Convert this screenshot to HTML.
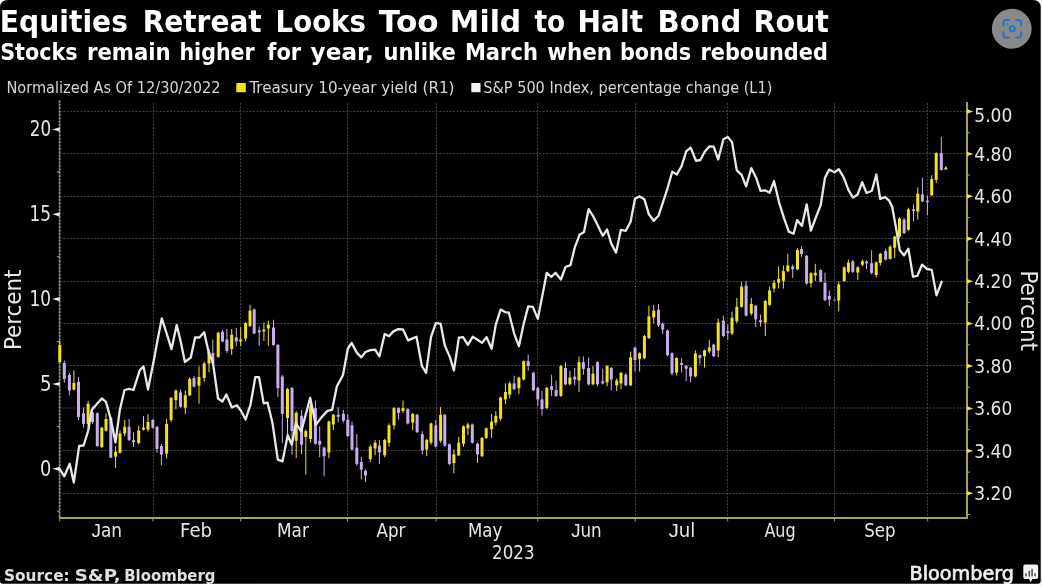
<!DOCTYPE html><html><head><meta charset="utf-8"><title>Equities Retreat Looks Too Mild to Halt Bond Rout</title>
<style>html,body{margin:0;padding:0;background:#fff;width:1042px;height:587px;overflow:hidden}svg{display:block;filter:blur(0.3px)}</style></head><body>
<svg width="1042" height="587" viewBox="0 0 1042 587">
<path d="M8 0 H1032.8 Q1040.8 0 1040.8 8 V580.7 Q1040.8 583.7 1037.8 583.7 H3 Q0 583.7 0 580.7 V8 Q0 0 8 0 Z" fill="#000"/>
<rect x="1040.8" y="0" width="1.2" height="587" fill="#d8d8d8" opacity="0.5"/>
<text x="-0.13" y="32.10" fill="#fff" font-family="'DejaVu Sans', sans-serif" font-weight="bold" font-size="30.2" textLength="128.09" lengthAdjust="spacingAndGlyphs">Equities</text>
<text x="142.68" y="32.10" fill="#fff" font-family="'DejaVu Sans', sans-serif" font-weight="bold" font-size="30.2" textLength="119.00" lengthAdjust="spacingAndGlyphs">Retreat</text>
<text x="275.62" y="32.10" fill="#fff" font-family="'DejaVu Sans', sans-serif" font-weight="bold" font-size="30.2" textLength="90.23" lengthAdjust="spacingAndGlyphs">Looks</text>
<text x="378.80" y="32.10" fill="#fff" font-family="'DejaVu Sans', sans-serif" font-weight="bold" font-size="30.2" textLength="59.85" lengthAdjust="spacingAndGlyphs">Too</text>
<text x="449.82" y="32.10" fill="#fff" font-family="'DejaVu Sans', sans-serif" font-weight="bold" font-size="30.2" textLength="71.36" lengthAdjust="spacingAndGlyphs">Mild</text>
<text x="534.44" y="32.10" fill="#fff" font-family="'DejaVu Sans', sans-serif" font-weight="bold" font-size="30.2" textLength="30.65" lengthAdjust="spacingAndGlyphs">to</text>
<text x="577.57" y="32.10" fill="#fff" font-family="'DejaVu Sans', sans-serif" font-weight="bold" font-size="30.2" textLength="65.57" lengthAdjust="spacingAndGlyphs">Halt</text>
<text x="657.58" y="32.10" fill="#fff" font-family="'DejaVu Sans', sans-serif" font-weight="bold" font-size="30.2" textLength="83.75" lengthAdjust="spacingAndGlyphs">Bond</text>
<text x="753.43" y="32.10" fill="#fff" font-family="'DejaVu Sans', sans-serif" font-weight="bold" font-size="30.2" textLength="75.56" lengthAdjust="spacingAndGlyphs">Rout</text>
<text x="0.15" y="59.80" fill="#fff" font-family="'DejaVu Sans', sans-serif" font-weight="bold" font-size="23" textLength="77.45" lengthAdjust="spacingAndGlyphs">Stocks</text>
<text x="87.00" y="59.80" fill="#fff" font-family="'DejaVu Sans', sans-serif" font-weight="bold" font-size="23" textLength="83.66" lengthAdjust="spacingAndGlyphs">remain</text>
<text x="179.45" y="59.80" fill="#fff" font-family="'DejaVu Sans', sans-serif" font-weight="bold" font-size="23" textLength="75.23" lengthAdjust="spacingAndGlyphs">higher</text>
<text x="267.28" y="59.80" fill="#fff" font-family="'DejaVu Sans', sans-serif" font-weight="bold" font-size="23" textLength="33.83" lengthAdjust="spacingAndGlyphs">for</text>
<text x="310.64" y="59.80" fill="#fff" font-family="'DejaVu Sans', sans-serif" font-weight="bold" font-size="23" textLength="63.20" lengthAdjust="spacingAndGlyphs">year,</text>
<text x="383.52" y="59.80" fill="#fff" font-family="'DejaVu Sans', sans-serif" font-weight="bold" font-size="23" textLength="72.15" lengthAdjust="spacingAndGlyphs">unlike</text>
<text x="464.90" y="59.80" fill="#fff" font-family="'DejaVu Sans', sans-serif" font-weight="bold" font-size="23" textLength="73.03" lengthAdjust="spacingAndGlyphs">March</text>
<text x="547.24" y="59.80" fill="#fff" font-family="'DejaVu Sans', sans-serif" font-weight="bold" font-size="23" textLength="64.89" lengthAdjust="spacingAndGlyphs">when</text>
<text x="619.94" y="59.80" fill="#fff" font-family="'DejaVu Sans', sans-serif" font-weight="bold" font-size="23" textLength="71.11" lengthAdjust="spacingAndGlyphs">bonds</text>
<text x="700.53" y="59.80" fill="#fff" font-family="'DejaVu Sans', sans-serif" font-weight="bold" font-size="23" textLength="127.29" lengthAdjust="spacingAndGlyphs">rebounded</text>
<g font-family="'DejaVu Sans Condensed', 'DejaVu Sans', sans-serif" font-size="15.4" fill="#d6d6d6">
<text x="6.5" y="93.2" textLength="214" lengthAdjust="spacingAndGlyphs">Normalized As Of 12/30/2022</text>
<rect x="236.3" y="83" width="9.5" height="9.2" fill="#f3e51c"/>
<text x="249.5" y="93.2" textLength="205" lengthAdjust="spacingAndGlyphs">Treasury 10-year yield (R1)</text>
<rect x="471.3" y="83" width="9.2" height="9.2" fill="#f2f2f2"/>
<text x="483.3" y="93.2" textLength="289" lengthAdjust="spacingAndGlyphs">S&amp;P 500 Index, percentage change (L1)</text>
</g>
<g stroke="#464646" stroke-width="1" stroke-dasharray="1.9 1.55" fill="none">
<line x1="59.7" y1="111.5" x2="966.3" y2="111.5"/>
<line x1="59.7" y1="153.5" x2="966.3" y2="153.5"/>
<line x1="59.7" y1="196.5" x2="966.3" y2="196.5"/>
<line x1="59.7" y1="238.5" x2="966.3" y2="238.5"/>
<line x1="59.7" y1="281.5" x2="966.3" y2="281.5"/>
<line x1="59.7" y1="323.5" x2="966.3" y2="323.5"/>
<line x1="59.7" y1="365.5" x2="966.3" y2="365.5"/>
<line x1="59.7" y1="408" x2="966.3" y2="408"/>
<line x1="59.7" y1="450.5" x2="966.3" y2="450.5"/>
<line x1="59.7" y1="493.5" x2="966.3" y2="493.5"/>
<line x1="153.5" y1="103" x2="153.5" y2="518"/>
<line x1="240.5" y1="103" x2="240.5" y2="518"/>
<line x1="347.5" y1="103" x2="347.5" y2="518"/>
<line x1="436.5" y1="103" x2="436.5" y2="518"/>
<line x1="537.5" y1="103" x2="537.5" y2="518"/>
<line x1="635.5" y1="103" x2="635.5" y2="518"/>
<line x1="727.5" y1="103" x2="727.5" y2="518"/>
<line x1="834.5" y1="103" x2="834.5" y2="518"/>
<line x1="927.5" y1="103" x2="927.5" y2="518"/>
</g>
<line x1="59.6" y1="100.5" x2="59.6" y2="518" stroke="#555" stroke-width="1.6"/>
<line x1="59.6" y1="100.5" x2="59.6" y2="518" stroke="#9a9a9a" stroke-width="1.6" stroke-dasharray="1.7 1.7"/>
<path d="M52.3 129.4 L59.6 127.3 L59.6 131.5 Z" fill="#f0f0f0"/>
<path d="M52.3 214.3 L59.6 212.2 L59.6 216.4 Z" fill="#f0f0f0"/>
<path d="M52.3 299.1 L59.6 297.0 L59.6 301.2 Z" fill="#f0f0f0"/>
<path d="M52.3 384.0 L59.6 381.9 L59.6 386.1 Z" fill="#f0f0f0"/>
<path d="M52.3 468.8 L59.6 466.7 L59.6 470.9 Z" fill="#f0f0f0"/>
<line x1="57" y1="171.8" x2="59.6" y2="171.8" stroke="#aaa" stroke-width="1"/>
<line x1="57" y1="256.7" x2="59.6" y2="256.7" stroke="#aaa" stroke-width="1"/>
<line x1="57" y1="341.5" x2="59.6" y2="341.5" stroke="#aaa" stroke-width="1"/>
<line x1="57" y1="426.4" x2="59.6" y2="426.4" stroke="#aaa" stroke-width="1"/>
<line x1="57" y1="511.2" x2="59.6" y2="511.2" stroke="#aaa" stroke-width="1"/>
<line x1="967" y1="102" x2="967" y2="519" stroke="#a4a44e" stroke-width="2"/>
<path d="M967 109.3 L973.2 111.5 L967 113.7 Z" fill="#f0e62c"/>
<path d="M967 151.7 L973.2 153.9 L967 156.1 Z" fill="#f0e62c"/>
<path d="M967 194.1 L973.2 196.3 L967 198.5 Z" fill="#f0e62c"/>
<path d="M967 236.6 L973.2 238.8 L967 241.0 Z" fill="#f0e62c"/>
<path d="M967 279.0 L973.2 281.2 L967 283.4 Z" fill="#f0e62c"/>
<path d="M967 321.4 L973.2 323.6 L967 325.8 Z" fill="#f0e62c"/>
<path d="M967 363.8 L973.2 366.0 L967 368.2 Z" fill="#f0e62c"/>
<path d="M967 406.2 L973.2 408.4 L967 410.6 Z" fill="#f0e62c"/>
<path d="M967 448.7 L973.2 450.9 L967 453.1 Z" fill="#f0e62c"/>
<path d="M967 491.1 L973.2 493.3 L967 495.5 Z" fill="#f0e62c"/>
<line x1="967" y1="132.7" x2="970" y2="132.7" stroke="#9a9a60" stroke-width="1"/>
<line x1="967" y1="175.1" x2="970" y2="175.1" stroke="#9a9a60" stroke-width="1"/>
<line x1="967" y1="217.6" x2="970" y2="217.6" stroke="#9a9a60" stroke-width="1"/>
<line x1="967" y1="260.0" x2="970" y2="260.0" stroke="#9a9a60" stroke-width="1"/>
<line x1="967" y1="302.4" x2="970" y2="302.4" stroke="#9a9a60" stroke-width="1"/>
<line x1="967" y1="344.8" x2="970" y2="344.8" stroke="#9a9a60" stroke-width="1"/>
<line x1="967" y1="387.2" x2="970" y2="387.2" stroke="#9a9a60" stroke-width="1"/>
<line x1="967" y1="429.7" x2="970" y2="429.7" stroke="#9a9a60" stroke-width="1"/>
<line x1="967" y1="472.1" x2="970" y2="472.1" stroke="#9a9a60" stroke-width="1"/>
<line x1="967" y1="514.5" x2="970" y2="514.5" stroke="#9a9a60" stroke-width="1"/>
<line x1="59.2" y1="518" x2="968" y2="518" stroke="#a5a552" stroke-width="2"/>
<line x1="59.7" y1="518" x2="59.7" y2="521.5" stroke="#a5a552" stroke-width="1"/>
<line x1="152.9" y1="518" x2="152.9" y2="521.5" stroke="#a5a552" stroke-width="1"/>
<line x1="240.7" y1="518" x2="240.7" y2="521.5" stroke="#a5a552" stroke-width="1"/>
<line x1="347.5" y1="518" x2="347.5" y2="521.5" stroke="#a5a552" stroke-width="1"/>
<line x1="436.1" y1="518" x2="436.1" y2="521.5" stroke="#a5a552" stroke-width="1"/>
<line x1="537.7" y1="518" x2="537.7" y2="521.5" stroke="#a5a552" stroke-width="1"/>
<line x1="635.2" y1="518" x2="635.2" y2="521.5" stroke="#a5a552" stroke-width="1"/>
<line x1="727.7" y1="518" x2="727.7" y2="521.5" stroke="#a5a552" stroke-width="1"/>
<line x1="834.4" y1="518" x2="834.4" y2="521.5" stroke="#a5a552" stroke-width="1"/>
<line x1="927.7" y1="518" x2="927.7" y2="521.5" stroke="#a5a552" stroke-width="1"/>
<g font-family="'DejaVu Sans Condensed', 'DejaVu Sans', sans-serif" fill="#e6e6e6">
<text x="29.82" y="136.20" font-size="20.8" textLength="21.36" lengthAdjust="spacingAndGlyphs">20</text>
<text x="29.52" y="221.05" font-size="20.8" textLength="21.52" lengthAdjust="spacingAndGlyphs">15</text>
<text x="29.52" y="305.90" font-size="20.8" textLength="21.52" lengthAdjust="spacingAndGlyphs">10</text>
<text x="39.99" y="390.75" font-size="20.8" textLength="11.58" lengthAdjust="spacingAndGlyphs">5</text>
<text x="40.01" y="475.60" font-size="20.8" textLength="11.32" lengthAdjust="spacingAndGlyphs">0</text>
<text x="974.35" y="121.60" font-size="20.2" textLength="37.95" lengthAdjust="spacingAndGlyphs">5.00</text>
<text x="974.35" y="160.72" font-size="20.2" textLength="37.95" lengthAdjust="spacingAndGlyphs">4.80</text>
<text x="974.35" y="203.14" font-size="20.2" textLength="37.95" lengthAdjust="spacingAndGlyphs">4.60</text>
<text x="974.35" y="245.56" font-size="20.2" textLength="37.95" lengthAdjust="spacingAndGlyphs">4.40</text>
<text x="974.35" y="287.98" font-size="20.2" textLength="37.95" lengthAdjust="spacingAndGlyphs">4.20</text>
<text x="974.35" y="330.40" font-size="20.2" textLength="37.95" lengthAdjust="spacingAndGlyphs">4.00</text>
<text x="974.35" y="372.82" font-size="20.2" textLength="37.95" lengthAdjust="spacingAndGlyphs">3.80</text>
<text x="974.35" y="415.24" font-size="20.2" textLength="37.95" lengthAdjust="spacingAndGlyphs">3.60</text>
<text x="974.35" y="457.66" font-size="20.2" textLength="37.95" lengthAdjust="spacingAndGlyphs">3.40</text>
<text x="974.35" y="500.08" font-size="20.2" textLength="37.95" lengthAdjust="spacingAndGlyphs">3.20</text>
<text x="91.50" y="536.50" font-size="18.6" textLength="30.56" lengthAdjust="spacingAndGlyphs"><tspan font-family="Liberation Sans, sans-serif">J</tspan>an</text>
<text x="180.09" y="536.50" font-size="18.6" textLength="31.99" lengthAdjust="spacingAndGlyphs">Feb</text>
<text x="277.02" y="536.50" font-size="18.6" textLength="31.83" lengthAdjust="spacingAndGlyphs">Mar</text>
<text x="376.50" y="536.50" font-size="18.6" textLength="28.91" lengthAdjust="spacingAndGlyphs">Apr</text>
<text x="468.05" y="536.50" font-size="18.6" textLength="34.33" lengthAdjust="spacingAndGlyphs">May</text>
<text x="571.20" y="536.50" font-size="18.6" textLength="30.55" lengthAdjust="spacingAndGlyphs"><tspan font-family="Liberation Sans, sans-serif">J</tspan>un</text>
<text x="668.70" y="536.50" font-size="18.6" textLength="26.62" lengthAdjust="spacingAndGlyphs"><tspan font-family="Liberation Sans, sans-serif">J</tspan>ul</text>
<text x="764.40" y="536.50" font-size="18.6" textLength="31.21" lengthAdjust="spacingAndGlyphs">Aug</text>
<text x="864.28" y="536.50" font-size="18.6" textLength="31.29" lengthAdjust="spacingAndGlyphs">Sep</text>
<text x="492.07" y="558.80" font-size="19.3" textLength="42.48" lengthAdjust="spacingAndGlyphs">2023</text>
<text transform="translate(21.00 350.08) rotate(-90)" font-size="23.0" textLength="80.59" lengthAdjust="spacingAndGlyphs">Percent</text>
<text transform="translate(1020.50 270.42) rotate(90)" font-size="22.2" textLength="80.48" lengthAdjust="spacingAndGlyphs">Percent</text>
</g>
<g>
<rect x="59.3" y="341.0" width="1" height="22.0" fill="#f0e224"/>
<rect x="58.3" y="345.0" width="3.0" height="17.0" fill="#f0e224"/>
<rect x="63.8" y="360.5" width="1" height="22.3" fill="#c9adec"/>
<rect x="62.8" y="363.0" width="3.0" height="16.0" fill="#c9adec"/>
<rect x="68.9" y="373.0" width="1" height="22.3" fill="#c9adec"/>
<rect x="67.9" y="375.0" width="3.0" height="15.5" fill="#c9adec"/>
<rect x="73.4" y="370.3" width="1" height="20.2" fill="#f0e224"/>
<rect x="72.4" y="382.8" width="3.0" height="6.7" fill="#f0e224"/>
<rect x="78.0" y="377.0" width="1" height="43.0" fill="#c9adec"/>
<rect x="77.0" y="381.8" width="3.0" height="35.2" fill="#c9adec"/>
<rect x="83.0" y="407.5" width="1" height="20.2" fill="#c9adec"/>
<rect x="82.0" y="413.3" width="3.0" height="10.6" fill="#c9adec"/>
<rect x="87.6" y="400.8" width="1" height="26.0" fill="#f0e224"/>
<rect x="86.6" y="403.7" width="3.0" height="20.2" fill="#f0e224"/>
<rect x="92.0" y="406.5" width="1" height="17.4" fill="#c9adec"/>
<rect x="91.0" y="412.3" width="3.0" height="9.7" fill="#c9adec"/>
<rect x="96.8" y="412.3" width="1" height="34.7" fill="#c9adec"/>
<rect x="95.8" y="413.3" width="3.0" height="32.7" fill="#c9adec"/>
<rect x="101.3" y="426.8" width="1" height="21.2" fill="#f0e224"/>
<rect x="100.3" y="427.7" width="3.0" height="19.3" fill="#f0e224"/>
<rect x="105.5" y="413.3" width="1" height="18.3" fill="#f0e224"/>
<rect x="104.5" y="419.0" width="3.0" height="11.6" fill="#f0e224"/>
<rect x="110.3" y="417.0" width="1" height="41.0" fill="#c9adec"/>
<rect x="109.3" y="418.1" width="3.0" height="39.5" fill="#c9adec"/>
<rect x="115.1" y="446.0" width="1" height="22.1" fill="#f0e224"/>
<rect x="114.1" y="451.8" width="3.0" height="4.8" fill="#f0e224"/>
<rect x="119.5" y="430.6" width="1" height="23.1" fill="#f0e224"/>
<rect x="118.5" y="433.5" width="3.0" height="19.2" fill="#f0e224"/>
<rect x="124.2" y="420.0" width="1" height="16.4" fill="#f0e224"/>
<rect x="123.2" y="426.8" width="3.0" height="6.7" fill="#f0e224"/>
<rect x="128.6" y="419.0" width="1" height="22.2" fill="#c9adec"/>
<rect x="127.6" y="426.8" width="3.0" height="13.4" fill="#c9adec"/>
<rect x="133.0" y="432.5" width="1" height="14.5" fill="#c9adec"/>
<rect x="132.0" y="440.2" width="3.0" height="2.0" fill="#c9adec"/>
<rect x="138.2" y="425.8" width="1" height="18.3" fill="#f0e224"/>
<rect x="137.2" y="430.6" width="3.0" height="12.5" fill="#f0e224"/>
<rect x="143.0" y="416.2" width="1" height="14.4" fill="#f0e224"/>
<rect x="142.0" y="427.7" width="3.0" height="1.9" fill="#f0e224"/>
<rect x="147.5" y="414.2" width="1" height="17.4" fill="#f0e224"/>
<rect x="146.5" y="422.0" width="3.0" height="7.6" fill="#f0e224"/>
<rect x="152.3" y="419.0" width="1" height="9.7" fill="#c9adec"/>
<rect x="151.3" y="420.0" width="3.0" height="7.7" fill="#c9adec"/>
<rect x="156.5" y="425.8" width="1" height="26.9" fill="#c9adec"/>
<rect x="155.5" y="426.8" width="3.0" height="22.1" fill="#c9adec"/>
<rect x="160.9" y="444.0" width="1" height="21.3" fill="#c9adec"/>
<rect x="159.9" y="446.0" width="3.0" height="8.7" fill="#c9adec"/>
<rect x="166.1" y="419.0" width="1" height="39.5" fill="#f0e224"/>
<rect x="165.1" y="423.9" width="3.0" height="29.8" fill="#f0e224"/>
<rect x="170.6" y="397.0" width="1" height="25.0" fill="#f0e224"/>
<rect x="169.6" y="397.9" width="3.0" height="22.1" fill="#f0e224"/>
<rect x="175.4" y="389.5" width="1" height="19.9" fill="#f0e224"/>
<rect x="174.4" y="390.5" width="3.0" height="9.6" fill="#f0e224"/>
<rect x="180.0" y="389.5" width="1" height="18.3" fill="#c9adec"/>
<rect x="179.0" y="392.4" width="3.0" height="14.4" fill="#c9adec"/>
<rect x="184.8" y="390.5" width="1" height="23.7" fill="#f0e224"/>
<rect x="183.8" y="395.3" width="3.0" height="12.5" fill="#f0e224"/>
<rect x="189.2" y="377.0" width="1" height="19.3" fill="#f0e224"/>
<rect x="188.2" y="378.9" width="3.0" height="16.4" fill="#f0e224"/>
<rect x="193.5" y="376.0" width="1" height="11.6" fill="#c9adec"/>
<rect x="192.5" y="378.0" width="3.0" height="8.6" fill="#c9adec"/>
<rect x="198.5" y="366.4" width="1" height="37.3" fill="#f0e224"/>
<rect x="197.5" y="377.0" width="3.0" height="8.7" fill="#f0e224"/>
<rect x="203.7" y="361.6" width="1" height="20.2" fill="#f0e224"/>
<rect x="202.7" y="363.5" width="3.0" height="14.5" fill="#f0e224"/>
<rect x="208.5" y="349.0" width="1" height="23.2" fill="#f0e224"/>
<rect x="207.5" y="352.0" width="3.0" height="11.5" fill="#f0e224"/>
<rect x="212.3" y="339.5" width="1" height="24.0" fill="#c9adec"/>
<rect x="211.3" y="353.0" width="3.0" height="10.5" fill="#c9adec"/>
<rect x="217.7" y="331.8" width="1" height="26.0" fill="#f0e224"/>
<rect x="216.7" y="332.7" width="3.0" height="24.1" fill="#f0e224"/>
<rect x="222.0" y="329.9" width="1" height="12.4" fill="#c9adec"/>
<rect x="221.0" y="331.8" width="3.0" height="9.6" fill="#c9adec"/>
<rect x="226.4" y="328.9" width="1" height="24.0" fill="#c9adec"/>
<rect x="225.4" y="339.5" width="3.0" height="11.5" fill="#c9adec"/>
<rect x="231.2" y="328.9" width="1" height="26.0" fill="#f0e224"/>
<rect x="230.2" y="334.6" width="3.0" height="14.5" fill="#f0e224"/>
<rect x="235.8" y="327.9" width="1" height="18.3" fill="#c9adec"/>
<rect x="234.8" y="337.5" width="3.0" height="3.9" fill="#c9adec"/>
<rect x="240.2" y="327.0" width="1" height="19.2" fill="#f0e224"/>
<rect x="239.2" y="339.5" width="3.0" height="1.9" fill="#f0e224"/>
<rect x="245.1" y="322.1" width="1" height="19.3" fill="#f0e224"/>
<rect x="244.1" y="323.0" width="3.0" height="15.5" fill="#f0e224"/>
<rect x="249.5" y="304.8" width="1" height="22.2" fill="#f0e224"/>
<rect x="248.5" y="310.6" width="3.0" height="15.4" fill="#f0e224"/>
<rect x="253.7" y="308.5" width="1" height="25.8" fill="#c9adec"/>
<rect x="252.7" y="309.4" width="3.0" height="24.1" fill="#c9adec"/>
<rect x="258.7" y="326.6" width="1" height="19.2" fill="#c9adec"/>
<rect x="257.7" y="330.4" width="3.0" height="1.9" fill="#c9adec"/>
<rect x="263.4" y="322.7" width="1" height="18.3" fill="#f0e224"/>
<rect x="262.4" y="329.5" width="3.0" height="1.9" fill="#f0e224"/>
<rect x="267.8" y="320.8" width="1" height="25.0" fill="#f0e224"/>
<rect x="266.8" y="324.6" width="3.0" height="3.9" fill="#f0e224"/>
<rect x="273.0" y="319.8" width="1" height="26.0" fill="#c9adec"/>
<rect x="272.0" y="327.5" width="3.0" height="17.4" fill="#c9adec"/>
<rect x="277.4" y="344.0" width="1" height="53.0" fill="#c9adec"/>
<rect x="276.4" y="344.9" width="3.0" height="43.3" fill="#c9adec"/>
<rect x="281.8" y="375.0" width="1" height="68.0" fill="#c9adec"/>
<rect x="280.8" y="376.6" width="3.0" height="37.3" fill="#c9adec"/>
<rect x="287.0" y="388.0" width="1" height="48.0" fill="#f0e224"/>
<rect x="286.0" y="389.0" width="3.0" height="29.0" fill="#f0e224"/>
<rect x="291.5" y="387.0" width="1" height="68.0" fill="#c9adec"/>
<rect x="290.5" y="387.9" width="3.0" height="43.1" fill="#c9adec"/>
<rect x="295.7" y="411.0" width="1" height="47.1" fill="#f0e224"/>
<rect x="294.7" y="412.9" width="3.0" height="27.9" fill="#f0e224"/>
<rect x="301.1" y="410.0" width="1" height="44.3" fill="#c9adec"/>
<rect x="300.1" y="415.8" width="3.0" height="28.9" fill="#c9adec"/>
<rect x="305.3" y="429.3" width="1" height="45.2" fill="#f0e224"/>
<rect x="304.3" y="431.2" width="3.0" height="5.8" fill="#f0e224"/>
<rect x="310.1" y="402.3" width="1" height="40.4" fill="#f0e224"/>
<rect x="309.1" y="406.2" width="3.0" height="32.7" fill="#f0e224"/>
<rect x="314.9" y="400.4" width="1" height="44.3" fill="#c9adec"/>
<rect x="313.9" y="408.1" width="3.0" height="35.6" fill="#c9adec"/>
<rect x="319.2" y="426.4" width="1" height="30.8" fill="#c9adec"/>
<rect x="318.2" y="440.8" width="3.0" height="3.9" fill="#c9adec"/>
<rect x="323.6" y="446.6" width="1" height="29.8" fill="#c9adec"/>
<rect x="322.6" y="447.6" width="3.0" height="8.6" fill="#c9adec"/>
<rect x="328.4" y="420.6" width="1" height="37.5" fill="#f0e224"/>
<rect x="327.4" y="421.6" width="3.0" height="30.8" fill="#f0e224"/>
<rect x="332.8" y="413.9" width="1" height="16.3" fill="#f0e224"/>
<rect x="331.8" y="414.8" width="3.0" height="9.7" fill="#f0e224"/>
<rect x="337.7" y="407.1" width="1" height="15.4" fill="#c9adec"/>
<rect x="336.7" y="414.8" width="3.0" height="2.0" fill="#c9adec"/>
<rect x="342.9" y="410.0" width="1" height="12.5" fill="#c9adec"/>
<rect x="341.9" y="413.9" width="3.0" height="6.7" fill="#c9adec"/>
<rect x="347.3" y="413.9" width="1" height="23.1" fill="#c9adec"/>
<rect x="346.3" y="419.6" width="3.0" height="16.4" fill="#c9adec"/>
<rect x="351.5" y="421.6" width="1" height="28.8" fill="#c9adec"/>
<rect x="350.5" y="425.4" width="3.0" height="24.1" fill="#c9adec"/>
<rect x="356.3" y="434.1" width="1" height="31.7" fill="#c9adec"/>
<rect x="355.3" y="447.6" width="3.0" height="16.3" fill="#c9adec"/>
<rect x="360.8" y="457.2" width="1" height="22.1" fill="#c9adec"/>
<rect x="359.8" y="462.0" width="3.0" height="7.7" fill="#c9adec"/>
<rect x="365.0" y="469.7" width="1" height="12.5" fill="#c9adec"/>
<rect x="364.0" y="470.7" width="3.0" height="4.8" fill="#c9adec"/>
<rect x="369.8" y="444.7" width="1" height="17.3" fill="#f0e224"/>
<rect x="368.8" y="446.6" width="3.0" height="12.5" fill="#f0e224"/>
<rect x="374.6" y="439.9" width="1" height="15.4" fill="#f0e224"/>
<rect x="373.6" y="442.7" width="3.0" height="5.8" fill="#f0e224"/>
<rect x="378.9" y="439.9" width="1" height="24.0" fill="#c9adec"/>
<rect x="377.9" y="445.6" width="3.0" height="6.8" fill="#c9adec"/>
<rect x="384.2" y="438.9" width="1" height="18.3" fill="#f0e224"/>
<rect x="383.2" y="439.9" width="3.0" height="15.4" fill="#f0e224"/>
<rect x="388.5" y="423.5" width="1" height="23.1" fill="#f0e224"/>
<rect x="387.5" y="425.4" width="3.0" height="17.3" fill="#f0e224"/>
<rect x="393.5" y="407.1" width="1" height="22.2" fill="#f0e224"/>
<rect x="392.5" y="408.1" width="3.0" height="17.3" fill="#f0e224"/>
<rect x="398.1" y="407.1" width="1" height="12.5" fill="#c9adec"/>
<rect x="397.1" y="408.1" width="3.0" height="4.8" fill="#c9adec"/>
<rect x="402.5" y="400.4" width="1" height="12.5" fill="#f0e224"/>
<rect x="401.5" y="408.1" width="3.0" height="2.9" fill="#f0e224"/>
<rect x="407.3" y="408.1" width="1" height="16.4" fill="#c9adec"/>
<rect x="406.3" y="409.1" width="3.0" height="14.4" fill="#c9adec"/>
<rect x="412.2" y="412.9" width="1" height="17.3" fill="#f0e224"/>
<rect x="411.2" y="413.9" width="3.0" height="8.6" fill="#f0e224"/>
<rect x="416.6" y="413.9" width="1" height="19.2" fill="#c9adec"/>
<rect x="415.6" y="414.8" width="3.0" height="17.4" fill="#c9adec"/>
<rect x="421.8" y="431.2" width="1" height="23.1" fill="#c9adec"/>
<rect x="420.8" y="434.1" width="3.0" height="16.3" fill="#c9adec"/>
<rect x="426.2" y="438.9" width="1" height="17.3" fill="#f0e224"/>
<rect x="425.2" y="439.9" width="3.0" height="9.6" fill="#f0e224"/>
<rect x="430.5" y="422.5" width="1" height="22.2" fill="#f0e224"/>
<rect x="429.5" y="423.5" width="3.0" height="19.2" fill="#f0e224"/>
<rect x="435.3" y="419.6" width="1" height="28.0" fill="#c9adec"/>
<rect x="434.3" y="425.4" width="3.0" height="21.2" fill="#c9adec"/>
<rect x="440.1" y="407.1" width="1" height="35.6" fill="#f0e224"/>
<rect x="439.1" y="414.8" width="3.0" height="26.0" fill="#f0e224"/>
<rect x="444.3" y="413.9" width="1" height="32.7" fill="#c9adec"/>
<rect x="443.3" y="414.8" width="3.0" height="30.8" fill="#c9adec"/>
<rect x="448.9" y="443.7" width="1" height="21.3" fill="#c9adec"/>
<rect x="447.9" y="444.2" width="3.0" height="19.7" fill="#c9adec"/>
<rect x="453.4" y="449.5" width="1" height="24.0" fill="#f0e224"/>
<rect x="452.4" y="454.3" width="3.0" height="8.7" fill="#f0e224"/>
<rect x="458.2" y="437.0" width="1" height="19.2" fill="#f0e224"/>
<rect x="457.2" y="442.7" width="3.0" height="12.6" fill="#f0e224"/>
<rect x="463.0" y="425.4" width="1" height="21.2" fill="#f0e224"/>
<rect x="462.0" y="426.4" width="3.0" height="17.3" fill="#f0e224"/>
<rect x="467.4" y="422.5" width="1" height="12.5" fill="#f0e224"/>
<rect x="466.4" y="424.5" width="3.0" height="3.8" fill="#f0e224"/>
<rect x="471.8" y="423.5" width="1" height="20.2" fill="#c9adec"/>
<rect x="470.8" y="424.5" width="3.0" height="18.2" fill="#c9adec"/>
<rect x="477.0" y="442.7" width="1" height="20.3" fill="#c9adec"/>
<rect x="476.0" y="443.7" width="3.0" height="10.6" fill="#c9adec"/>
<rect x="481.5" y="437.0" width="1" height="20.2" fill="#f0e224"/>
<rect x="480.5" y="437.9" width="3.0" height="18.3" fill="#f0e224"/>
<rect x="485.7" y="427.3" width="1" height="11.6" fill="#f0e224"/>
<rect x="484.7" y="428.3" width="3.0" height="9.6" fill="#f0e224"/>
<rect x="491.1" y="413.9" width="1" height="24.0" fill="#f0e224"/>
<rect x="490.1" y="421.6" width="3.0" height="7.7" fill="#f0e224"/>
<rect x="495.3" y="411.0" width="1" height="14.4" fill="#f0e224"/>
<rect x="494.3" y="415.8" width="3.0" height="6.7" fill="#f0e224"/>
<rect x="500.1" y="396.5" width="1" height="24.1" fill="#f0e224"/>
<rect x="499.1" y="397.5" width="3.0" height="21.2" fill="#f0e224"/>
<rect x="504.9" y="383.4" width="1" height="20.8" fill="#f0e224"/>
<rect x="503.9" y="392.0" width="3.0" height="7.4" fill="#f0e224"/>
<rect x="509.2" y="381.4" width="1" height="17.1" fill="#f0e224"/>
<rect x="508.2" y="383.4" width="3.0" height="11.2" fill="#f0e224"/>
<rect x="513.6" y="375.7" width="1" height="14.4" fill="#c9adec"/>
<rect x="512.6" y="383.4" width="3.0" height="5.7" fill="#c9adec"/>
<rect x="518.4" y="376.6" width="1" height="17.3" fill="#f0e224"/>
<rect x="517.4" y="377.6" width="3.0" height="10.6" fill="#f0e224"/>
<rect x="523.2" y="360.3" width="1" height="20.2" fill="#f0e224"/>
<rect x="522.2" y="361.2" width="3.0" height="18.3" fill="#f0e224"/>
<rect x="527.7" y="354.5" width="1" height="16.3" fill="#c9adec"/>
<rect x="526.7" y="361.2" width="3.0" height="4.8" fill="#c9adec"/>
<rect x="532.9" y="371.8" width="1" height="19.3" fill="#c9adec"/>
<rect x="531.9" y="372.8" width="3.0" height="17.3" fill="#c9adec"/>
<rect x="537.3" y="386.9" width="1" height="19.3" fill="#c9adec"/>
<rect x="536.3" y="387.9" width="3.0" height="11.5" fill="#c9adec"/>
<rect x="541.5" y="390.8" width="1" height="25.0" fill="#c9adec"/>
<rect x="540.5" y="399.4" width="3.0" height="9.7" fill="#c9adec"/>
<rect x="546.3" y="386.9" width="1" height="22.2" fill="#f0e224"/>
<rect x="545.3" y="387.9" width="3.0" height="20.2" fill="#f0e224"/>
<rect x="551.1" y="374.7" width="1" height="21.2" fill="#c9adec"/>
<rect x="550.1" y="386.2" width="3.0" height="3.9" fill="#c9adec"/>
<rect x="555.6" y="380.5" width="1" height="16.4" fill="#c9adec"/>
<rect x="554.6" y="390.1" width="3.0" height="5.8" fill="#c9adec"/>
<rect x="560.4" y="365.0" width="1" height="31.9" fill="#f0e224"/>
<rect x="559.4" y="366.0" width="3.0" height="29.9" fill="#f0e224"/>
<rect x="565.0" y="362.2" width="1" height="23.1" fill="#c9adec"/>
<rect x="564.0" y="368.0" width="3.0" height="16.3" fill="#c9adec"/>
<rect x="569.4" y="370.8" width="1" height="14.5" fill="#f0e224"/>
<rect x="568.4" y="377.6" width="3.0" height="6.7" fill="#f0e224"/>
<rect x="574.2" y="368.0" width="1" height="17.3" fill="#c9adec"/>
<rect x="573.2" y="376.6" width="3.0" height="2.9" fill="#c9adec"/>
<rect x="578.5" y="356.4" width="1" height="35.6" fill="#f0e224"/>
<rect x="577.5" y="362.2" width="3.0" height="18.3" fill="#f0e224"/>
<rect x="582.9" y="356.4" width="1" height="18.3" fill="#c9adec"/>
<rect x="581.9" y="362.2" width="3.0" height="6.7" fill="#c9adec"/>
<rect x="588.1" y="357.4" width="1" height="27.9" fill="#c9adec"/>
<rect x="587.1" y="368.0" width="3.0" height="16.3" fill="#c9adec"/>
<rect x="592.5" y="366.0" width="1" height="19.3" fill="#f0e224"/>
<rect x="591.5" y="373.7" width="3.0" height="10.6" fill="#f0e224"/>
<rect x="597.0" y="361.2" width="1" height="25.0" fill="#c9adec"/>
<rect x="596.0" y="362.2" width="3.0" height="22.1" fill="#c9adec"/>
<rect x="602.2" y="368.9" width="1" height="15.4" fill="#c9adec"/>
<rect x="601.2" y="381.4" width="3.0" height="2.0" fill="#c9adec"/>
<rect x="606.6" y="365.0" width="1" height="21.2" fill="#f0e224"/>
<rect x="605.6" y="366.0" width="3.0" height="16.4" fill="#f0e224"/>
<rect x="610.8" y="367.0" width="1" height="23.1" fill="#c9adec"/>
<rect x="609.8" y="368.0" width="3.0" height="11.5" fill="#c9adec"/>
<rect x="616.2" y="378.5" width="1" height="12.6" fill="#f0e224"/>
<rect x="615.2" y="380.5" width="3.0" height="4.8" fill="#f0e224"/>
<rect x="620.5" y="371.8" width="1" height="17.3" fill="#f0e224"/>
<rect x="619.5" y="372.8" width="3.0" height="10.6" fill="#f0e224"/>
<rect x="625.3" y="372.8" width="1" height="13.4" fill="#c9adec"/>
<rect x="624.3" y="374.7" width="3.0" height="10.6" fill="#c9adec"/>
<rect x="630.1" y="351.6" width="1" height="34.6" fill="#f0e224"/>
<rect x="629.1" y="357.4" width="3.0" height="27.9" fill="#f0e224"/>
<rect x="634.5" y="346.5" width="1" height="25.1" fill="#c9adec"/>
<rect x="633.5" y="347.6" width="3.0" height="12.4" fill="#c9adec"/>
<rect x="639.1" y="352.3" width="1" height="19.3" fill="#f0e224"/>
<rect x="638.1" y="353.3" width="3.0" height="5.8" fill="#f0e224"/>
<rect x="643.9" y="335.0" width="1" height="24.0" fill="#f0e224"/>
<rect x="642.9" y="336.0" width="3.0" height="22.1" fill="#f0e224"/>
<rect x="648.4" y="305.8" width="1" height="33.2" fill="#f0e224"/>
<rect x="647.4" y="316.5" width="3.0" height="21.5" fill="#f0e224"/>
<rect x="653.2" y="304.9" width="1" height="18.6" fill="#f0e224"/>
<rect x="652.2" y="310.7" width="3.0" height="6.8" fill="#f0e224"/>
<rect x="658.0" y="304.0" width="1" height="23.0" fill="#c9adec"/>
<rect x="657.0" y="309.7" width="3.0" height="15.5" fill="#c9adec"/>
<rect x="662.2" y="322.5" width="1" height="11.5" fill="#c9adec"/>
<rect x="661.2" y="323.8" width="3.0" height="5.7" fill="#c9adec"/>
<rect x="667.0" y="329.5" width="1" height="26.7" fill="#c9adec"/>
<rect x="666.0" y="330.5" width="3.0" height="24.7" fill="#c9adec"/>
<rect x="671.5" y="352.3" width="1" height="23.1" fill="#c9adec"/>
<rect x="670.5" y="353.3" width="3.0" height="20.2" fill="#c9adec"/>
<rect x="676.1" y="357.2" width="1" height="18.2" fill="#f0e224"/>
<rect x="675.1" y="358.1" width="3.0" height="14.5" fill="#f0e224"/>
<rect x="681.1" y="358.1" width="1" height="14.5" fill="#c9adec"/>
<rect x="680.1" y="362.9" width="3.0" height="2.0" fill="#c9adec"/>
<rect x="685.7" y="364.9" width="1" height="16.3" fill="#c9adec"/>
<rect x="684.7" y="365.8" width="3.0" height="2.9" fill="#c9adec"/>
<rect x="690.1" y="366.8" width="1" height="15.4" fill="#c9adec"/>
<rect x="689.1" y="367.7" width="3.0" height="8.7" fill="#c9adec"/>
<rect x="694.9" y="350.4" width="1" height="27.0" fill="#f0e224"/>
<rect x="693.9" y="353.3" width="3.0" height="23.1" fill="#f0e224"/>
<rect x="699.4" y="354.3" width="1" height="10.6" fill="#c9adec"/>
<rect x="698.4" y="355.2" width="3.0" height="2.9" fill="#c9adec"/>
<rect x="704.0" y="349.5" width="1" height="18.2" fill="#f0e224"/>
<rect x="703.0" y="350.4" width="3.0" height="5.8" fill="#f0e224"/>
<rect x="708.8" y="339.8" width="1" height="13.5" fill="#f0e224"/>
<rect x="707.8" y="347.5" width="3.0" height="3.9" fill="#f0e224"/>
<rect x="713.2" y="343.7" width="1" height="13.5" fill="#c9adec"/>
<rect x="712.2" y="344.6" width="3.0" height="11.6" fill="#c9adec"/>
<rect x="717.7" y="318.7" width="1" height="38.5" fill="#f0e224"/>
<rect x="716.7" y="322.5" width="3.0" height="27.9" fill="#f0e224"/>
<rect x="722.9" y="315.8" width="1" height="21.2" fill="#c9adec"/>
<rect x="721.9" y="320.6" width="3.0" height="15.4" fill="#c9adec"/>
<rect x="727.3" y="324.4" width="1" height="15.4" fill="#c9adec"/>
<rect x="726.3" y="331.2" width="3.0" height="1.9" fill="#c9adec"/>
<rect x="731.5" y="311.6" width="1" height="23.4" fill="#f0e224"/>
<rect x="730.5" y="317.7" width="3.0" height="15.8" fill="#f0e224"/>
<rect x="736.3" y="298.0" width="1" height="25.0" fill="#f0e224"/>
<rect x="735.3" y="306.8" width="3.0" height="14.4" fill="#f0e224"/>
<rect x="741.1" y="281.8" width="1" height="26.0" fill="#f0e224"/>
<rect x="740.1" y="286.6" width="3.0" height="20.2" fill="#f0e224"/>
<rect x="745.6" y="280.8" width="1" height="35.7" fill="#c9adec"/>
<rect x="744.6" y="285.6" width="3.0" height="30.0" fill="#c9adec"/>
<rect x="750.8" y="298.1" width="1" height="17.4" fill="#f0e224"/>
<rect x="749.8" y="303.9" width="3.0" height="9.6" fill="#f0e224"/>
<rect x="755.2" y="304.9" width="1" height="22.4" fill="#c9adec"/>
<rect x="754.2" y="305.8" width="3.0" height="13.5" fill="#c9adec"/>
<rect x="760.0" y="314.5" width="1" height="11.9" fill="#c9adec"/>
<rect x="759.0" y="320.3" width="3.0" height="1.9" fill="#c9adec"/>
<rect x="764.8" y="300.0" width="1" height="36.0" fill="#f0e224"/>
<rect x="763.8" y="301.0" width="3.0" height="21.5" fill="#f0e224"/>
<rect x="769.1" y="286.6" width="1" height="19.3" fill="#f0e224"/>
<rect x="768.1" y="290.4" width="3.0" height="14.5" fill="#f0e224"/>
<rect x="773.5" y="279.9" width="1" height="12.5" fill="#f0e224"/>
<rect x="772.5" y="282.7" width="3.0" height="5.8" fill="#f0e224"/>
<rect x="778.1" y="266.4" width="1" height="22.1" fill="#f0e224"/>
<rect x="777.1" y="278.9" width="3.0" height="3.8" fill="#f0e224"/>
<rect x="782.9" y="265.4" width="1" height="23.1" fill="#f0e224"/>
<rect x="781.9" y="271.2" width="3.0" height="9.6" fill="#f0e224"/>
<rect x="787.3" y="253.9" width="1" height="18.3" fill="#f0e224"/>
<rect x="786.3" y="265.4" width="3.0" height="5.8" fill="#f0e224"/>
<rect x="792.2" y="264.5" width="1" height="13.4" fill="#c9adec"/>
<rect x="791.2" y="266.4" width="3.0" height="2.9" fill="#c9adec"/>
<rect x="797.0" y="248.1" width="1" height="22.1" fill="#f0e224"/>
<rect x="796.0" y="250.0" width="3.0" height="19.3" fill="#f0e224"/>
<rect x="801.0" y="246.2" width="1" height="10.6" fill="#c9adec"/>
<rect x="800.0" y="249.0" width="3.0" height="5.0" fill="#c9adec"/>
<rect x="806.1" y="254.8" width="1" height="29.8" fill="#c9adec"/>
<rect x="805.1" y="255.8" width="3.0" height="27.8" fill="#c9adec"/>
<rect x="810.5" y="272.2" width="1" height="15.3" fill="#f0e224"/>
<rect x="809.5" y="273.3" width="3.0" height="9.9" fill="#f0e224"/>
<rect x="814.8" y="263.8" width="1" height="17.1" fill="#f0e224"/>
<rect x="813.8" y="272.9" width="3.0" height="2.5" fill="#f0e224"/>
<rect x="820.2" y="269.3" width="1" height="12.9" fill="#c9adec"/>
<rect x="819.2" y="270.1" width="3.0" height="11.6" fill="#c9adec"/>
<rect x="824.5" y="272.7" width="1" height="28.6" fill="#c9adec"/>
<rect x="823.5" y="282.8" width="3.0" height="17.2" fill="#c9adec"/>
<rect x="828.8" y="290.4" width="1" height="15.7" fill="#c9adec"/>
<rect x="827.8" y="296.0" width="3.0" height="3.5" fill="#c9adec"/>
<rect x="834.0" y="298.0" width="1" height="4.0" fill="#6a6a6a"/>
<rect x="833.0" y="299.3" width="3.0" height="1.3" fill="#6a6a6a"/>
<rect x="838.2" y="281.6" width="1" height="29.9" fill="#f0e224"/>
<rect x="837.2" y="284.5" width="3.0" height="16.0" fill="#f0e224"/>
<rect x="843.7" y="266.4" width="1" height="15.4" fill="#f0e224"/>
<rect x="842.7" y="267.3" width="3.0" height="13.9" fill="#f0e224"/>
<rect x="847.9" y="259.6" width="1" height="13.8" fill="#f0e224"/>
<rect x="846.9" y="262.7" width="3.0" height="9.1" fill="#f0e224"/>
<rect x="852.3" y="259.6" width="1" height="13.4" fill="#c9adec"/>
<rect x="851.3" y="261.3" width="3.0" height="10.5" fill="#c9adec"/>
<rect x="857.3" y="266.4" width="1" height="13.7" fill="#f0e224"/>
<rect x="856.3" y="267.3" width="3.0" height="5.2" fill="#f0e224"/>
<rect x="861.9" y="259.6" width="1" height="6.8" fill="#f0e224"/>
<rect x="860.9" y="261.3" width="3.0" height="3.4" fill="#f0e224"/>
<rect x="866.0" y="260.5" width="1" height="8.5" fill="#c9adec"/>
<rect x="865.0" y="261.7" width="3.0" height="1.7" fill="#c9adec"/>
<rect x="871.1" y="250.3" width="1" height="24.2" fill="#c9adec"/>
<rect x="870.1" y="263.2" width="3.0" height="9.7" fill="#c9adec"/>
<rect x="875.7" y="261.5" width="1" height="16.0" fill="#f0e224"/>
<rect x="874.7" y="262.5" width="3.0" height="12.5" fill="#f0e224"/>
<rect x="879.8" y="252.8" width="1" height="12.8" fill="#f0e224"/>
<rect x="878.8" y="253.7" width="3.0" height="9.3" fill="#f0e224"/>
<rect x="885.2" y="248.5" width="1" height="12.0" fill="#c9adec"/>
<rect x="884.2" y="251.1" width="3.0" height="8.5" fill="#c9adec"/>
<rect x="889.6" y="245.1" width="1" height="14.5" fill="#f0e224"/>
<rect x="888.6" y="246.8" width="3.0" height="12.0" fill="#f0e224"/>
<rect x="894.2" y="235.8" width="1" height="22.1" fill="#f0e224"/>
<rect x="893.2" y="236.6" width="3.0" height="11.1" fill="#f0e224"/>
<rect x="899.0" y="217.0" width="1" height="21.3" fill="#f0e224"/>
<rect x="898.0" y="218.7" width="3.0" height="17.9" fill="#f0e224"/>
<rect x="903.6" y="217.9" width="1" height="16.1" fill="#c9adec"/>
<rect x="902.6" y="219.6" width="3.0" height="13.6" fill="#c9adec"/>
<rect x="907.9" y="207.7" width="1" height="23.0" fill="#f0e224"/>
<rect x="906.9" y="209.4" width="3.0" height="20.4" fill="#f0e224"/>
<rect x="913.0" y="204.3" width="1" height="17.0" fill="#c9adec"/>
<rect x="912.0" y="209.4" width="3.0" height="1.7" fill="#c9adec"/>
<rect x="917.3" y="187.6" width="1" height="32.0" fill="#f0e224"/>
<rect x="916.3" y="193.7" width="3.0" height="17.9" fill="#f0e224"/>
<rect x="921.9" y="177.6" width="1" height="24.6" fill="#c9adec"/>
<rect x="920.9" y="194.5" width="3.0" height="6.9" fill="#c9adec"/>
<rect x="926.9" y="195.3" width="1" height="20.0" fill="#c9adec"/>
<rect x="925.9" y="200.6" width="3.0" height="1.6" fill="#c9adec"/>
<rect x="931.2" y="175.3" width="1" height="20.7" fill="#f0e224"/>
<rect x="930.2" y="179.1" width="3.0" height="16.2" fill="#f0e224"/>
<rect x="935.7" y="152.3" width="1" height="30.7" fill="#f0e224"/>
<rect x="934.7" y="153.0" width="3.0" height="26.9" fill="#f0e224"/>
<rect x="940.8" y="136.9" width="1" height="33.8" fill="#c9adec"/>
<rect x="939.8" y="153.0" width="3.0" height="16.9" fill="#c9adec"/>
</g>
<path d="M943.8 169.6 L945.8 165.8 L947.8 169.6 Z" fill="#f0e224"/>
<polyline points="59.7,469.0 64.3,476.3 69.7,463.7 73.8,482.5 79.2,445.8 83.6,445.5 88.1,431.0 91.7,410.1 97.1,403.8 101.9,398.4 106.0,402.0 110.5,418.1 115.5,442.3 119.8,410.0 124.5,390.0 129.0,388.9 133.5,390.0 139.7,370.3 143.5,366.4 148.0,389.5 153.2,363.5 157.4,341.0 161.8,318.3 166.5,333.0 171.5,349.1 176.7,325.0 180.8,342.0 184.9,362.0 190.7,357.7 195.1,337.5 199.4,337.5 204.2,332.3 209.0,353.9 212.8,361.6 218.0,398.5 222.5,401.5 226.3,394.5 231.9,407.5 236.9,405.2 240.8,410.5 245.6,419.5 250.6,404.3 255.3,377.2 259.0,377.2 263.7,403.4 267.5,402.5 272.5,423.0 277.8,459.6 282.5,461.4 287.7,435.2 291.8,444.6 295.9,423.0 301.2,431.5 305.6,415.0 310.2,397.8 315.8,424.9 321.4,417.4 327.4,410.9 332.1,409.9 336.8,386.5 343.0,375.0 347.8,348.7 351.6,342.9 356.8,352.6 361.3,357.4 365.5,352.0 370.3,350.1 375.1,349.7 379.4,356.4 384.7,333.9 389.0,336.2 393.4,331.4 398.2,329.1 403.0,329.5 408.2,340.4 413.2,338.1 416.5,336.8 421.9,366.0 426.1,372.8 431.0,337.2 435.8,323.1 440.6,323.7 444.8,345.5 450.0,357.4 453.9,370.5 458.9,337.7 463.1,337.2 467.9,344.9 472.7,336.8 477.5,339.7 482.0,342.9 486.6,337.2 491.6,348.7 495.8,324.6 500.6,309.6 505.1,312.1 508.9,312.7 514.1,333.3 518.9,346.2 523.7,323.7 528.2,306.4 532.8,306.9 537.8,318.9 546.8,272.8 551.3,277.0 555.5,272.8 560.9,279.5 565.5,267.0 570.5,265.1 574.7,247.7 579.6,234.7 584.0,232.0 588.6,209.2 593.0,216.0 597.8,225.6 602.7,235.8 607.1,229.5 611.3,243.9 616.1,252.6 620.9,229.8 625.8,230.8 630.6,221.8 635.0,198.7 639.6,196.4 644.4,199.3 648.9,214.3 653.7,220.7 658.5,215.7 662.7,203.2 667.5,188.3 672.3,171.6 676.8,174.5 681.6,166.2 686.2,151.4 690.6,147.5 696.0,160.8 700.3,160.0 704.7,151.8 709.3,146.4 713.7,146.6 718.2,159.5 723.4,139.2 727.8,136.9 732.0,142.1 736.8,170.4 741.6,174.9 746.1,186.4 751.3,168.1 756.1,177.7 760.5,190.8 765.1,190.3 769.6,192.8 774.0,181.2 779.2,202.8 784.0,218.2 788.8,231.6 793.6,233.7 797.1,220.1 801.9,225.9 806.7,204.3 810.9,230.7 816.0,217.0 820.7,205.0 825.0,177.7 829.2,169.6 834.5,172.2 838.8,169.2 843.8,177.6 848.4,189.9 853.0,197.6 857.6,194.5 862.2,182.2 866.5,193.0 871.9,190.7 876.3,174.5 880.2,198.8 885.2,197.1 889.1,200.6 892.2,206.8 895.6,225.6 899.8,250.3 904.1,255.4 908.4,248.6 913.0,276.7 917.4,275.8 922.0,264.7 927.1,269.0 931.7,269.8 936.5,295.4 941.6,281.8" fill="none" stroke="#e8e8e8" stroke-width="2.3" stroke-linejoin="round" stroke-linecap="round"/>
<text x="4.03" y="580.80" fill="#e0e0e0" font-family="'DejaVu Sans', sans-serif" font-weight="bold" font-size="15.2" textLength="65.71" lengthAdjust="spacingAndGlyphs">Source:</text>
<text x="74.73" y="580.80" fill="#e0e0e0" font-family="'DejaVu Sans', sans-serif" font-weight="bold" font-size="15.2" textLength="45.82" lengthAdjust="spacingAndGlyphs">S&amp;P,</text>
<text x="124.26" y="580.80" fill="#e0e0e0" font-family="'DejaVu Sans', sans-serif" font-weight="bold" font-size="15.2" textLength="91.19" lengthAdjust="spacingAndGlyphs">Bloomberg</text>
<text x="909.5" y="579.6" fill="#f0f0f0" font-family="'DejaVu Sans', sans-serif" font-size="19.6" textLength="104.5" lengthAdjust="spacingAndGlyphs" stroke="#f0f0f0" stroke-width="0.7">Bloomberg</text>
<path d="M1025.3 564.6 H1036.2 Q1038.2 564.6 1038.2 566.6 V576.9 Q1038.2 578.9 1036.2 578.9 H1032.3 L1030.7 582.5 L1029.1 578.9 H1025.3 Q1023.3 578.9 1023.3 576.9 V566.6 Q1023.3 564.6 1025.3 564.6 Z" fill="#f2f2f2"/>
<g fill="#555">
<rect x="1025.2" y="573.3" width="1.6" height="3"/>
<rect x="1028.5" y="570.8" width="1.6" height="5.8"/>
<rect x="1031.3" y="568.8" width="1.6" height="7.6"/>
<rect x="1034.3" y="573.3" width="1.6" height="3"/>
</g>
<circle cx="1011.75" cy="28.75" r="19.9" fill="#898989"/>
<g fill="none" stroke="#1f6fd6" stroke-width="1.9" stroke-linecap="round">
<path d="M1003.4 25.5 V23 Q1003.4 20 1006.4 20 H1009"/>
<path d="M1016 20 H1018.2 Q1021.2 20 1021.2 23 V25.5"/>
<path d="M1021.2 32.3 V34.6 Q1021.2 37.6 1018.2 37.6 H1016"/>
<path d="M1009 37.6 H1006.4 Q1003.4 37.6 1003.4 34.6 V32.3"/>
<circle cx="1012.3" cy="28.7" r="2.6" stroke-width="1.7"/>
</g>
<circle cx="1007.4" cy="24.1" r="1.1" fill="#1f6fd6"/>
</svg></body></html>
